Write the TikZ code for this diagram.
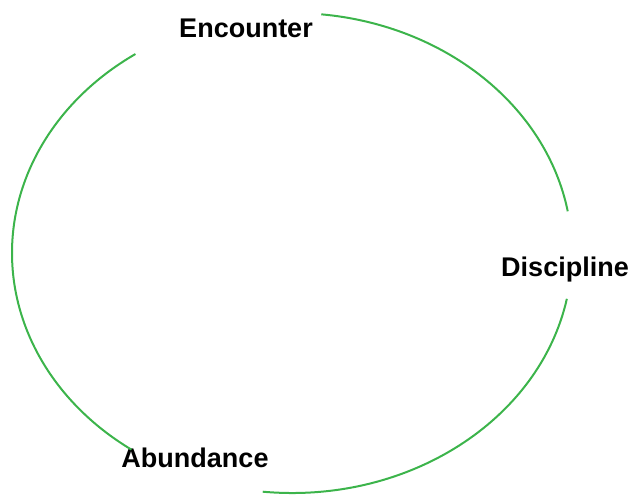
\documentclass[tikz,border=0pt]{standalone}
\usepackage{fontspec}
\setmainfont{Liberation Sans}
\usepackage{tikz}
\usetikzlibrary{positioning}
\definecolor{cyclegreen}{RGB}{60,180,75}

\begin{document}
\begin{tikzpicture}[x=1pt,y=1pt,
    stage/.style={font=\fontsize{27}{32}\selectfont\bfseries, text=black},
    cyc/.style={draw=cyclegreen, line width=2pt}]
    \useasboundingbox (0,0) rectangle (631,496);
    % Centre of the cycle
    \coordinate (c) at (292,243);
    % Stages
    \node[stage] (enc) at (246,468) {Encounter};
    \node[stage] (dis) at (565,226) {Discipline};
    \node[stage] (abu) at (195,38) {Abundance};
    % Arcs between the stages
    \draw[cyc] (c) ++(84:280pt and 240pt) arc[start angle=84, end angle=10, x radius=280pt, y radius=240pt];
    \draw[cyc] (c) ++(-11:280pt and 240pt) arc[start angle=-11, end angle=-96, x radius=280pt, y radius=240pt];
    \draw[cyc] (c) ++(124:280pt and 240pt) arc[start angle=124, end angle=235, x radius=280pt, y radius=240pt];
\end{tikzpicture}
\end{document}
